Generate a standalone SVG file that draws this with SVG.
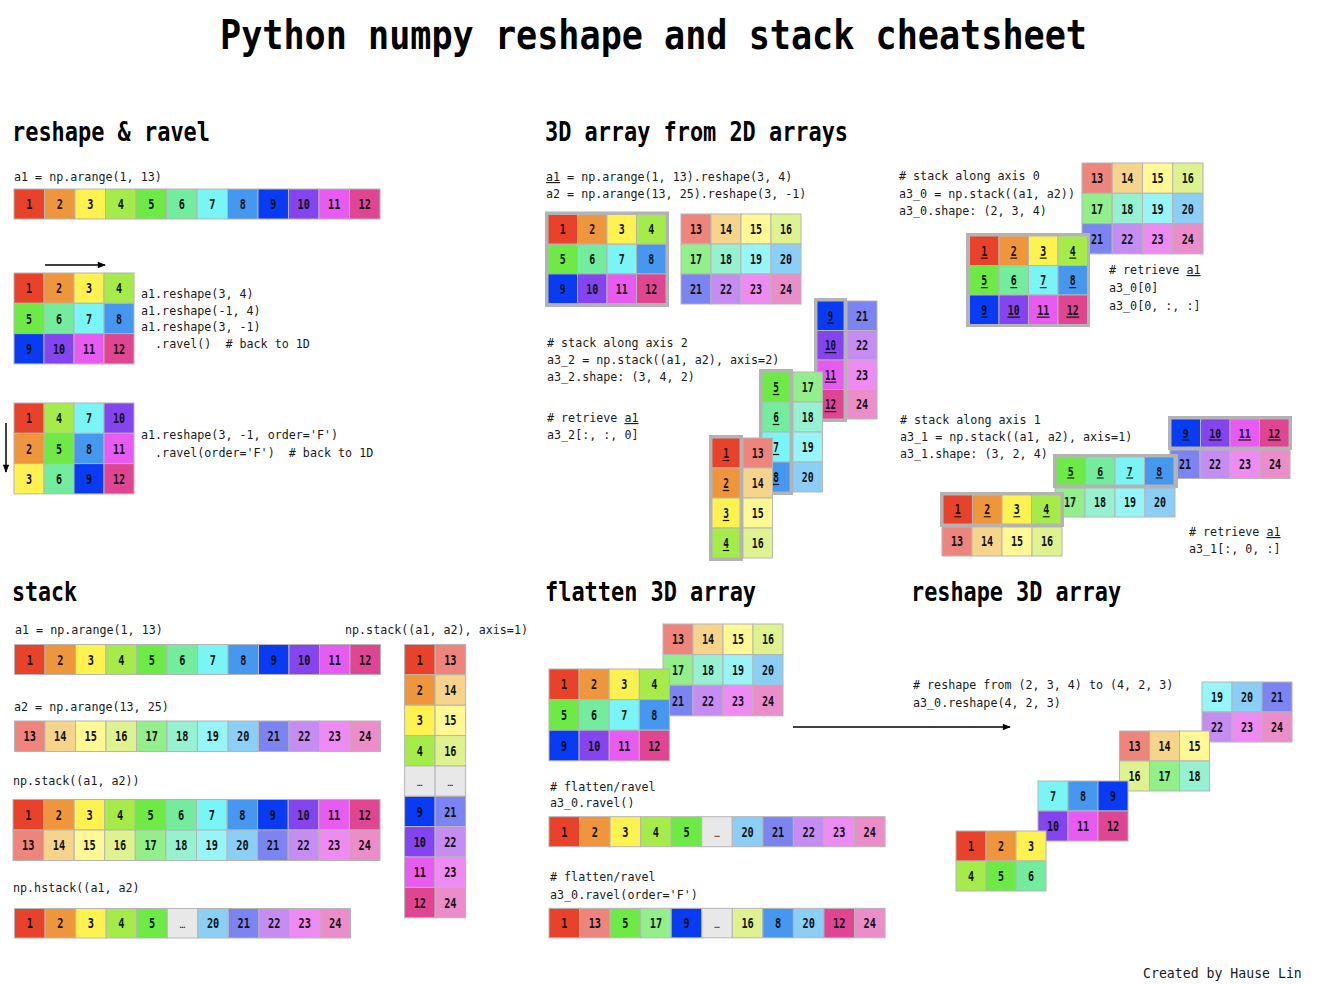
<svg xmlns="http://www.w3.org/2000/svg" xmlns:xlink="http://www.w3.org/1999/xlink" width="1322" height="984" viewBox="0 0 1322 984">
<style>
.title{font-family:"DejaVu Sans Mono","Liberation Mono",monospace;font-weight:bold;font-size:41px;fill:#000;}
.h{font-family:"DejaVu Sans Mono","Liberation Mono",monospace;font-weight:bold;font-size:26px;fill:#000;}
.code{font-family:"DejaVu Sans Mono","Liberation Mono",monospace;font-size:11.7px;fill:#1a1a1a;}
.cred{font-family:"DejaVu Sans Mono","Liberation Mono",monospace;font-size:13.2px;fill:#1a1a1a;}
.u{text-decoration:underline;}
.c{stroke:#b5b5b5;stroke-width:1;}
.v{font-family:"DejaVu Sans Mono","Liberation Mono",monospace;font-weight:bold;font-size:14px;fill:#111;text-anchor:middle;}
.e{font-family:"DejaVu Sans Mono","Liberation Mono",monospace;font-size:9px;fill:#222;text-anchor:middle;}
.ul{stroke:#111;stroke-width:1.2;fill:none;}
.hl{fill:#b3b3b3;}
.arr{stroke:#000;stroke-width:1.5;fill:none;marker-end:url(#ah);}
symbol{overflow:visible;}
</style>
<defs>
<marker id="ah" viewBox="0 0 10 10" refX="9" refY="5" markerWidth="9" markerHeight="8" markerUnits="userSpaceOnUse" orient="auto"><path d="M0,1 L10,5 L0,9 z" fill="#000"/></marker>
<symbol id="n1" viewBox="0 0 30 30" preserveAspectRatio="none"><rect class="c" width="30" height="30" fill="#E8432A"/><text class="v" transform="translate(15 20) scale(0.72 1)">1</text></symbol>
<symbol id="n2" viewBox="0 0 30 30" preserveAspectRatio="none"><rect class="c" width="30" height="30" fill="#EF953B"/><text class="v" transform="translate(15 20) scale(0.72 1)">2</text></symbol>
<symbol id="n3" viewBox="0 0 30 30" preserveAspectRatio="none"><rect class="c" width="30" height="30" fill="#FDF24F"/><text class="v" transform="translate(15 20) scale(0.72 1)">3</text></symbol>
<symbol id="n4" viewBox="0 0 30 30" preserveAspectRatio="none"><rect class="c" width="30" height="30" fill="#A5EB4A"/><text class="v" transform="translate(15 20) scale(0.72 1)">4</text></symbol>
<symbol id="n5" viewBox="0 0 30 30" preserveAspectRatio="none"><rect class="c" width="30" height="30" fill="#6DEA45"/><text class="v" transform="translate(15 20) scale(0.72 1)">5</text></symbol>
<symbol id="n6" viewBox="0 0 30 30" preserveAspectRatio="none"><rect class="c" width="30" height="30" fill="#73EC9E"/><text class="v" transform="translate(15 20) scale(0.72 1)">6</text></symbol>
<symbol id="n7" viewBox="0 0 30 30" preserveAspectRatio="none"><rect class="c" width="30" height="30" fill="#79F5F6"/><text class="v" transform="translate(15 20) scale(0.72 1)">7</text></symbol>
<symbol id="n8" viewBox="0 0 30 30" preserveAspectRatio="none"><rect class="c" width="30" height="30" fill="#4597F0"/><text class="v" transform="translate(15 20) scale(0.72 1)">8</text></symbol>
<symbol id="n9" viewBox="0 0 30 30" preserveAspectRatio="none"><rect class="c" width="30" height="30" fill="#0A3BF4"/><text class="v" transform="translate(15 20) scale(0.72 1)">9</text></symbol>
<symbol id="n10" viewBox="0 0 30 30" preserveAspectRatio="none"><rect class="c" width="30" height="30" fill="#8444EF"/><text class="v" transform="translate(15 20) scale(0.72 1)">10</text></symbol>
<symbol id="n11" viewBox="0 0 30 30" preserveAspectRatio="none"><rect class="c" width="30" height="30" fill="#E85BF0"/><text class="v" transform="translate(15 20) scale(0.72 1)">11</text></symbol>
<symbol id="n12" viewBox="0 0 30 30" preserveAspectRatio="none"><rect class="c" width="30" height="30" fill="#E04592"/><text class="v" transform="translate(15 20) scale(0.72 1)">12</text></symbol>
<symbol id="n13" viewBox="0 0 30 30" preserveAspectRatio="none"><rect class="c" width="30" height="30" fill="#EE857C"/><text class="v" transform="translate(15 20) scale(0.72 1)">13</text></symbol>
<symbol id="n14" viewBox="0 0 30 30" preserveAspectRatio="none"><rect class="c" width="30" height="30" fill="#F7D48C"/><text class="v" transform="translate(15 20) scale(0.72 1)">14</text></symbol>
<symbol id="n15" viewBox="0 0 30 30" preserveAspectRatio="none"><rect class="c" width="30" height="30" fill="#FFF894"/><text class="v" transform="translate(15 20) scale(0.72 1)">15</text></symbol>
<symbol id="n16" viewBox="0 0 30 30" preserveAspectRatio="none"><rect class="c" width="30" height="30" fill="#DEF38F"/><text class="v" transform="translate(15 20) scale(0.72 1)">16</text></symbol>
<symbol id="n17" viewBox="0 0 30 30" preserveAspectRatio="none"><rect class="c" width="30" height="30" fill="#92EF8A"/><text class="v" transform="translate(15 20) scale(0.72 1)">17</text></symbol>
<symbol id="n18" viewBox="0 0 30 30" preserveAspectRatio="none"><rect class="c" width="30" height="30" fill="#96F1D1"/><text class="v" transform="translate(15 20) scale(0.72 1)">18</text></symbol>
<symbol id="n19" viewBox="0 0 30 30" preserveAspectRatio="none"><rect class="c" width="30" height="30" fill="#98F5F7"/><text class="v" transform="translate(15 20) scale(0.72 1)">19</text></symbol>
<symbol id="n20" viewBox="0 0 30 30" preserveAspectRatio="none"><rect class="c" width="30" height="30" fill="#8BCEF6"/><text class="v" transform="translate(15 20) scale(0.72 1)">20</text></symbol>
<symbol id="n21" viewBox="0 0 30 30" preserveAspectRatio="none"><rect class="c" width="30" height="30" fill="#7C84F2"/><text class="v" transform="translate(15 20) scale(0.72 1)">21</text></symbol>
<symbol id="n22" viewBox="0 0 30 30" preserveAspectRatio="none"><rect class="c" width="30" height="30" fill="#C58CF1"/><text class="v" transform="translate(15 20) scale(0.72 1)">22</text></symbol>
<symbol id="n23" viewBox="0 0 30 30" preserveAspectRatio="none"><rect class="c" width="30" height="30" fill="#EE8BF2"/><text class="v" transform="translate(15 20) scale(0.72 1)">23</text></symbol>
<symbol id="n24" viewBox="0 0 30 30" preserveAspectRatio="none"><rect class="c" width="30" height="30" fill="#EB8DC9"/><text class="v" transform="translate(15 20) scale(0.72 1)">24</text></symbol>
<symbol id="ne" viewBox="0 0 30 30" preserveAspectRatio="none"><rect class="c" width="30" height="30" fill="#E8E8E8"/><text class="e" x="15" y="20">…</text></symbol>
<symbol id="u1" viewBox="0 0 30 30" preserveAspectRatio="none"><use href="#n1" width="30" height="30"/><path class="ul" d="M11.5 22.5h7"/></symbol>
<symbol id="u2" viewBox="0 0 30 30" preserveAspectRatio="none"><use href="#n2" width="30" height="30"/><path class="ul" d="M11.5 22.5h7"/></symbol>
<symbol id="u3" viewBox="0 0 30 30" preserveAspectRatio="none"><use href="#n3" width="30" height="30"/><path class="ul" d="M11.5 22.5h7"/></symbol>
<symbol id="u4" viewBox="0 0 30 30" preserveAspectRatio="none"><use href="#n4" width="30" height="30"/><path class="ul" d="M11.5 22.5h7"/></symbol>
<symbol id="u5" viewBox="0 0 30 30" preserveAspectRatio="none"><use href="#n5" width="30" height="30"/><path class="ul" d="M11.5 22.5h7"/></symbol>
<symbol id="u6" viewBox="0 0 30 30" preserveAspectRatio="none"><use href="#n6" width="30" height="30"/><path class="ul" d="M11.5 22.5h7"/></symbol>
<symbol id="u7" viewBox="0 0 30 30" preserveAspectRatio="none"><use href="#n7" width="30" height="30"/><path class="ul" d="M11.5 22.5h7"/></symbol>
<symbol id="u8" viewBox="0 0 30 30" preserveAspectRatio="none"><use href="#n8" width="30" height="30"/><path class="ul" d="M11.5 22.5h7"/></symbol>
<symbol id="u9" viewBox="0 0 30 30" preserveAspectRatio="none"><use href="#n9" width="30" height="30"/><path class="ul" d="M11.5 22.5h7"/></symbol>
<symbol id="u10" viewBox="0 0 30 30" preserveAspectRatio="none"><use href="#n10" width="30" height="30"/><path class="ul" d="M8.5 22.5h13"/></symbol>
<symbol id="u11" viewBox="0 0 30 30" preserveAspectRatio="none"><use href="#n11" width="30" height="30"/><path class="ul" d="M8.5 22.5h13"/></symbol>
<symbol id="u12" viewBox="0 0 30 30" preserveAspectRatio="none"><use href="#n12" width="30" height="30"/><path class="ul" d="M8.5 22.5h13"/></symbol>
</defs>
<rect width="1322" height="984" fill="#fff"/>
<text class="title" x="220" y="49" textLength="867" lengthAdjust="spacingAndGlyphs">Python numpy reshape and stack cheatsheet</text>

<!-- reshape & ravel -->
<g id="reshape-ravel">
<text class="h" x="12" y="141" textLength="198" lengthAdjust="spacingAndGlyphs">reshape &amp; ravel</text>
<text class="code" x="14" y="181">a1 = np.arange(1, 13)</text>
<g id="ravel-a1">
<use href="#n1" x="14" y="189" width="30.5" height="30"/><use href="#n2" x="44.5" y="189" width="30.5" height="30"/><use href="#n3" x="75" y="189" width="30.5" height="30"/><use href="#n4" x="105.5" y="189" width="30.5" height="30"/><use href="#n5" x="136" y="189" width="30.5" height="30"/><use href="#n6" x="166.5" y="189" width="30.5" height="30"/><use href="#n7" x="197" y="189" width="30.5" height="30"/><use href="#n8" x="227.5" y="189" width="30.5" height="30"/><use href="#n9" x="258" y="189" width="30.5" height="30"/><use href="#n10" x="288.5" y="189" width="30.5" height="30"/><use href="#n11" x="319" y="189" width="30.5" height="30"/><use href="#n12" x="349.5" y="189" width="30.5" height="30"/>
</g>
<g id="ravel-grid-c">
<use href="#n1" x="14" y="273" width="30" height="30.3"/><use href="#n2" x="44" y="273" width="30" height="30.3"/><use href="#n3" x="74" y="273" width="30" height="30.3"/><use href="#n4" x="104" y="273" width="30" height="30.3"/>
<use href="#n5" x="14" y="303.3" width="30" height="30.3"/><use href="#n6" x="44" y="303.3" width="30" height="30.3"/><use href="#n7" x="74" y="303.3" width="30" height="30.3"/><use href="#n8" x="104" y="303.3" width="30" height="30.3"/>
<use href="#n9" x="14" y="333.6" width="30" height="30.3"/><use href="#n10" x="44" y="333.6" width="30" height="30.3"/><use href="#n11" x="74" y="333.6" width="30" height="30.3"/><use href="#n12" x="104" y="333.6" width="30" height="30.3"/>
</g>
<text class="code" x="141" y="298">a1.reshape(3, 4)</text>
<text class="code" x="141" y="315">a1.reshape(-1, 4)</text>
<text class="code" x="141" y="331">a1.reshape(3, -1)</text>
<text class="code" x="141" y="348" xml:space="preserve">  .ravel()  # back to 1D</text>
<g id="ravel-grid-f">
<use href="#n1" x="14" y="403" width="30" height="30.3"/><use href="#n4" x="44" y="403" width="30" height="30.3"/><use href="#n7" x="74" y="403" width="30" height="30.3"/><use href="#n10" x="104" y="403" width="30" height="30.3"/>
<use href="#n2" x="14" y="433.3" width="30" height="30.3"/><use href="#n5" x="44" y="433.3" width="30" height="30.3"/><use href="#n8" x="74" y="433.3" width="30" height="30.3"/><use href="#n11" x="104" y="433.3" width="30" height="30.3"/>
<use href="#n3" x="14" y="463.6" width="30" height="30.3"/><use href="#n6" x="44" y="463.6" width="30" height="30.3"/><use href="#n9" x="74" y="463.6" width="30" height="30.3"/><use href="#n12" x="104" y="463.6" width="30" height="30.3"/>
</g>
<text class="code" x="141" y="439">a1.reshape(3, -1, order='F')</text>
<text class="code" x="141" y="457" xml:space="preserve">  .ravel(order='F')  # back to 1D</text>
</g>

<!-- 3D array from 2D arrays -->
<g id="stack3d">
<text class="h" x="545" y="141" textLength="303" lengthAdjust="spacingAndGlyphs">3D array from 2D arrays</text>
<text class="code" x="546" y="181"><tspan class="u">a1</tspan> = np.arange(1, 13).reshape(3, 4)</text>
<text class="code" x="546" y="198">a2 = np.arange(13, 25).reshape(3, -1)</text>
<g id="s3-a1">
<rect class="hl" x="545" y="211.5" width="124" height="95.5"/>
<use href="#n1" x="548" y="214.5" width="29.5" height="29.7"/><use href="#n2" x="577.5" y="214.5" width="29.5" height="29.7"/><use href="#n3" x="607" y="214.5" width="29.5" height="29.7"/><use href="#n4" x="636.5" y="214.5" width="29.5" height="29.7"/>
<use href="#n5" x="548" y="244.2" width="29.5" height="29.7"/><use href="#n6" x="577.5" y="244.2" width="29.5" height="29.7"/><use href="#n7" x="607" y="244.2" width="29.5" height="29.7"/><use href="#n8" x="636.5" y="244.2" width="29.5" height="29.7"/>
<use href="#n9" x="548" y="273.9" width="29.5" height="29.7"/><use href="#n10" x="577.5" y="273.9" width="29.5" height="29.7"/><use href="#n11" x="607" y="273.9" width="29.5" height="29.7"/><use href="#n12" x="636.5" y="273.9" width="29.5" height="29.7"/>
</g>
<g id="s3-a2">
<use href="#n13" x="681" y="214" width="30" height="30"/><use href="#n14" x="711" y="214" width="30" height="30"/><use href="#n15" x="741" y="214" width="30" height="30"/><use href="#n16" x="771" y="214" width="30" height="30"/>
<use href="#n17" x="681" y="244" width="30" height="30"/><use href="#n18" x="711" y="244" width="30" height="30"/><use href="#n19" x="741" y="244" width="30" height="30"/><use href="#n20" x="771" y="244" width="30" height="30"/>
<use href="#n21" x="681" y="274" width="30" height="30"/><use href="#n22" x="711" y="274" width="30" height="30"/><use href="#n23" x="741" y="274" width="30" height="30"/><use href="#n24" x="771" y="274" width="30" height="30"/>
</g>

<!-- axis 0 -->
<g id="axis0">
<text class="code" x="899" y="180"># stack along axis 0</text>
<text class="code" x="899" y="198">a3_0 = np.stack((a1, a2))</text>
<text class="code" x="899" y="215">a3_0.shape: (2, 3, 4)</text>
<use href="#n13" x="1082" y="163" width="30.25" height="30.3"/><use href="#n14" x="1112.25" y="163" width="30.25" height="30.3"/><use href="#n15" x="1142.5" y="163" width="30.25" height="30.3"/><use href="#n16" x="1172.75" y="163" width="30.25" height="30.3"/>
<use href="#n17" x="1082" y="193.3" width="30.25" height="30.3"/><use href="#n18" x="1112.25" y="193.3" width="30.25" height="30.3"/><use href="#n19" x="1142.5" y="193.3" width="30.25" height="30.3"/><use href="#n20" x="1172.75" y="193.3" width="30.25" height="30.3"/>
<use href="#n21" x="1082" y="223.6" width="30.25" height="30.3"/><use href="#n22" x="1112.25" y="223.6" width="30.25" height="30.3"/><use href="#n23" x="1142.5" y="223.6" width="30.25" height="30.3"/><use href="#n24" x="1172.75" y="223.6" width="30.25" height="30.3"/>
<rect class="hl" x="966" y="233" width="124" height="94"/>
<use href="#u1" x="969.5" y="236" width="29.5" height="29.5"/><use href="#u2" x="999" y="236" width="29.5" height="29.5"/><use href="#u3" x="1028.5" y="236" width="29.5" height="29.5"/><use href="#u4" x="1058" y="236" width="29.5" height="29.5"/>
<use href="#u5" x="969.5" y="265.5" width="29.5" height="29.5"/><use href="#u6" x="999" y="265.5" width="29.5" height="29.5"/><use href="#u7" x="1028.5" y="265.5" width="29.5" height="29.5"/><use href="#u8" x="1058" y="265.5" width="29.5" height="29.5"/>
<use href="#u9" x="969.5" y="295" width="29.5" height="29.5"/><use href="#u10" x="999" y="295" width="29.5" height="29.5"/><use href="#u11" x="1028.5" y="295" width="29.5" height="29.5"/><use href="#u12" x="1058" y="295" width="29.5" height="29.5"/>
<text class="code" x="1109" y="274"># retrieve <tspan class="u">a1</tspan></text>
<text class="code" x="1109" y="292">a3_0[0]</text>
<text class="code" x="1109" y="310">a3_0[0, :, :]</text>
</g>

<!-- axis 2 -->
<g id="axis2">
<text class="code" x="547" y="347"># stack along axis 2</text>
<text class="code" x="547" y="364">a3_2 = np.stack((a1, a2), axis=2)</text>
<text class="code" x="547" y="381">a3_2.shape: (3, 4, 2)</text>
<text class="code" x="547" y="422"># retrieve <tspan class="u">a1</tspan></text>
<text class="code" x="547" y="439">a3_2[:, :, 0]</text>
<g id="axis2-back">
<rect class="hl" x="814" y="298" width="33" height="124"/>
<use href="#u9" x="817" y="301" width="27" height="29.5"/><use href="#u10" x="817" y="330.5" width="27" height="29.5"/><use href="#u11" x="817" y="360" width="27" height="29.5"/><use href="#u12" x="817" y="389.5" width="27" height="29.5"/>
<use href="#n21" x="847" y="301" width="30" height="29.5"/><use href="#n22" x="847" y="330.5" width="30" height="29.5"/><use href="#n23" x="847" y="360" width="30" height="29.5"/><use href="#n24" x="847" y="389.5" width="30" height="29.5"/>
</g>
<g id="axis2-mid">
<rect class="hl" x="759" y="369" width="34" height="126"/>
<use href="#u5" x="762" y="372" width="28" height="30"/><use href="#u6" x="762" y="402" width="28" height="30"/><use href="#u7" x="762" y="432" width="28" height="30"/><use href="#u8" x="762" y="462" width="28" height="30"/>
<use href="#n17" x="793" y="372" width="29.5" height="30"/><use href="#n18" x="793" y="402" width="29.5" height="30"/><use href="#n19" x="793" y="432" width="29.5" height="30"/><use href="#n20" x="793" y="462" width="29.5" height="30"/>
</g>
<g id="axis2-front">
<rect class="hl" x="709" y="435" width="34" height="126"/>
<use href="#u1" x="712" y="438" width="28" height="30"/><use href="#u2" x="712" y="468" width="28" height="30"/><use href="#u3" x="712" y="498" width="28" height="30"/><use href="#u4" x="712" y="528" width="28" height="30"/>
<use href="#n13" x="743" y="438" width="29.5" height="30"/><use href="#n14" x="743" y="468" width="29.5" height="30"/><use href="#n15" x="743" y="498" width="29.5" height="30"/><use href="#n16" x="743" y="528" width="29.5" height="30"/>
</g>
</g>

<!-- axis 1 -->
<g id="axis1">
<text class="code" x="900" y="424"># stack along axis 1</text>
<text class="code" x="900" y="441">a3_1 = np.stack((a1, a2), axis=1)</text>
<text class="code" x="900" y="458">a3_1.shape: (3, 2, 4)</text>
<g id="axis1-back">
<rect class="hl" x="1168" y="416" width="124" height="34"/>
<use href="#u9" x="1171" y="419" width="29.5" height="28"/><use href="#u10" x="1200.5" y="419" width="29.5" height="28"/><use href="#u11" x="1230" y="419" width="29.5" height="28"/><use href="#u12" x="1259.5" y="419" width="29.5" height="28"/>
<use href="#n21" x="1170" y="450" width="30" height="28.5"/><use href="#n22" x="1200" y="450" width="30" height="28.5"/><use href="#n23" x="1230" y="450" width="30" height="28.5"/><use href="#n24" x="1260" y="450" width="30" height="28.5"/>
</g>
<g id="axis1-mid">
<rect class="hl" x="1053" y="454" width="125" height="34"/>
<use href="#u5" x="1056" y="457" width="29.5" height="28"/><use href="#u6" x="1085.5" y="457" width="29.5" height="28"/><use href="#u7" x="1115" y="457" width="29.5" height="28"/><use href="#u8" x="1144.5" y="457" width="29.5" height="28"/>
<use href="#n17" x="1055" y="488" width="30" height="29"/><use href="#n18" x="1085" y="488" width="30" height="29"/><use href="#n19" x="1115" y="488" width="30" height="29"/><use href="#n20" x="1145" y="488" width="30" height="29"/>
</g>
<g id="axis1-front">
<rect class="hl" x="940" y="492" width="124" height="35"/>
<use href="#u1" x="943" y="495" width="29.5" height="29"/><use href="#u2" x="972.5" y="495" width="29.5" height="29"/><use href="#u3" x="1002" y="495" width="29.5" height="29"/><use href="#u4" x="1031.5" y="495" width="29.5" height="29"/>
<use href="#n13" x="942" y="527" width="30" height="29"/><use href="#n14" x="972" y="527" width="30" height="29"/><use href="#n15" x="1002" y="527" width="30" height="29"/><use href="#n16" x="1032" y="527" width="30" height="29"/>
</g>
<text class="code" x="1189" y="536"># retrieve <tspan class="u">a1</tspan></text>
<text class="code" x="1189" y="553">a3_1[:, 0, :]</text>
</g>
</g>

<!-- stack -->
<g id="stack">
<text class="h" x="12" y="601" textLength="65" lengthAdjust="spacingAndGlyphs">stack</text>
<text class="code" x="15" y="634">a1 = np.arange(1, 13)</text>
<text class="code" x="345" y="634">np.stack((a1, a2), axis=1)</text>
<g id="stack-a1">
<use href="#n1" x="14.5" y="644.5" width="30.5" height="30"/><use href="#n2" x="45" y="644.5" width="30.5" height="30"/><use href="#n3" x="75.5" y="644.5" width="30.5" height="30"/><use href="#n4" x="106" y="644.5" width="30.5" height="30"/><use href="#n5" x="136.5" y="644.5" width="30.5" height="30"/><use href="#n6" x="167" y="644.5" width="30.5" height="30"/><use href="#n7" x="197.5" y="644.5" width="30.5" height="30"/><use href="#n8" x="228" y="644.5" width="30.5" height="30"/><use href="#n9" x="258.5" y="644.5" width="30.5" height="30"/><use href="#n10" x="289" y="644.5" width="30.5" height="30"/><use href="#n11" x="319.5" y="644.5" width="30.5" height="30"/><use href="#n12" x="350" y="644.5" width="30.5" height="30"/>
</g>
<text class="code" x="14" y="711">a2 = np.arange(13, 25)</text>
<g id="stack-a2">
<use href="#n13" x="14.5" y="721" width="30.5" height="30.5"/><use href="#n14" x="45" y="721" width="30.5" height="30.5"/><use href="#n15" x="75.5" y="721" width="30.5" height="30.5"/><use href="#n16" x="106" y="721" width="30.5" height="30.5"/><use href="#n17" x="136.5" y="721" width="30.5" height="30.5"/><use href="#n18" x="167" y="721" width="30.5" height="30.5"/><use href="#n19" x="197.5" y="721" width="30.5" height="30.5"/><use href="#n20" x="228" y="721" width="30.5" height="30.5"/><use href="#n21" x="258.5" y="721" width="30.5" height="30.5"/><use href="#n22" x="289" y="721" width="30.5" height="30.5"/><use href="#n23" x="319.5" y="721" width="30.5" height="30.5"/><use href="#n24" x="350" y="721" width="30.5" height="30.5"/>
</g>
<text class="code" x="13" y="785">np.stack((a1, a2))</text>
<g id="stack-2d">
<use href="#n1" x="13" y="799.5" width="30.6" height="30.5"/><use href="#n2" x="43.6" y="799.5" width="30.6" height="30.5"/><use href="#n3" x="74.2" y="799.5" width="30.6" height="30.5"/><use href="#n4" x="104.7" y="799.5" width="30.6" height="30.5"/><use href="#n5" x="135.3" y="799.5" width="30.6" height="30.5"/><use href="#n6" x="165.9" y="799.5" width="30.6" height="30.5"/><use href="#n7" x="196.5" y="799.5" width="30.6" height="30.5"/><use href="#n8" x="227.1" y="799.5" width="30.6" height="30.5"/><use href="#n9" x="257.6" y="799.5" width="30.6" height="30.5"/><use href="#n10" x="288.2" y="799.5" width="30.6" height="30.5"/><use href="#n11" x="318.8" y="799.5" width="30.6" height="30.5"/><use href="#n12" x="349.4" y="799.5" width="30.6" height="30.5"/>
<use href="#n13" x="13" y="830" width="30.6" height="30.5"/><use href="#n14" x="43.6" y="830" width="30.6" height="30.5"/><use href="#n15" x="74.2" y="830" width="30.6" height="30.5"/><use href="#n16" x="104.7" y="830" width="30.6" height="30.5"/><use href="#n17" x="135.3" y="830" width="30.6" height="30.5"/><use href="#n18" x="165.9" y="830" width="30.6" height="30.5"/><use href="#n19" x="196.5" y="830" width="30.6" height="30.5"/><use href="#n20" x="227.1" y="830" width="30.6" height="30.5"/><use href="#n21" x="257.6" y="830" width="30.6" height="30.5"/><use href="#n22" x="288.2" y="830" width="30.6" height="30.5"/><use href="#n23" x="318.8" y="830" width="30.6" height="30.5"/><use href="#n24" x="349.4" y="830" width="30.6" height="30.5"/>
</g>
<text class="code" x="13" y="892">np.hstack((a1, a2)</text>
<g id="stack-h">
<use href="#n1" x="14.5" y="908.5" width="30.55" height="29.5"/><use href="#n2" x="45.05" y="908.5" width="30.55" height="29.5"/><use href="#n3" x="75.6" y="908.5" width="30.55" height="29.5"/><use href="#n4" x="106.15" y="908.5" width="30.55" height="29.5"/><use href="#n5" x="136.7" y="908.5" width="30.55" height="29.5"/><use href="#ne" x="167.25" y="908.5" width="30.55" height="29.5"/><use href="#n20" x="197.8" y="908.5" width="30.55" height="29.5"/><use href="#n21" x="228.35" y="908.5" width="30.55" height="29.5"/><use href="#n22" x="258.9" y="908.5" width="30.55" height="29.5"/><use href="#n23" x="289.45" y="908.5" width="30.55" height="29.5"/><use href="#n24" x="320" y="908.5" width="30.55" height="29.5"/>
</g>
<g id="stack-axis1">
<use href="#n1" x="404.6" y="644.5" width="30.5" height="30.36"/><use href="#n13" x="435.1" y="644.5" width="30.5" height="30.36"/>
<use href="#n2" x="404.6" y="674.86" width="30.5" height="30.36"/><use href="#n14" x="435.1" y="674.86" width="30.5" height="30.36"/>
<use href="#n3" x="404.6" y="705.22" width="30.5" height="30.36"/><use href="#n15" x="435.1" y="705.22" width="30.5" height="30.36"/>
<use href="#n4" x="404.6" y="735.58" width="30.5" height="30.36"/><use href="#n16" x="435.1" y="735.58" width="30.5" height="30.36"/>
<use href="#ne" x="404.6" y="765.94" width="30.5" height="30.36"/><use href="#ne" x="435.1" y="765.94" width="30.5" height="30.36"/>
<use href="#n9" x="404.6" y="796.3" width="30.5" height="30.36"/><use href="#n21" x="435.1" y="796.3" width="30.5" height="30.36"/>
<use href="#n10" x="404.6" y="826.66" width="30.5" height="30.36"/><use href="#n22" x="435.1" y="826.66" width="30.5" height="30.36"/>
<use href="#n11" x="404.6" y="857.02" width="30.5" height="30.36"/><use href="#n23" x="435.1" y="857.02" width="30.5" height="30.36"/>
<use href="#n12" x="404.6" y="887.38" width="30.5" height="30.36"/><use href="#n24" x="435.1" y="887.38" width="30.5" height="30.36"/>
</g>
</g>

<!-- flatten 3D array -->
<g id="flatten">
<text class="h" x="545" y="601" textLength="211" lengthAdjust="spacingAndGlyphs">flatten 3D array</text>
<g id="flat-a2">
<use href="#n13" x="663" y="624" width="30" height="30.6"/><use href="#n14" x="693" y="624" width="30" height="30.6"/><use href="#n15" x="723" y="624" width="30" height="30.6"/><use href="#n16" x="753" y="624" width="30" height="30.6"/>
<use href="#n17" x="663" y="654.6" width="30" height="30.6"/><use href="#n18" x="693" y="654.6" width="30" height="30.6"/><use href="#n19" x="723" y="654.6" width="30" height="30.6"/><use href="#n20" x="753" y="654.6" width="30" height="30.6"/>
<use href="#n21" x="663" y="685.2" width="30" height="30.6"/><use href="#n22" x="693" y="685.2" width="30" height="30.6"/><use href="#n23" x="723" y="685.2" width="30" height="30.6"/><use href="#n24" x="753" y="685.2" width="30" height="30.6"/>
</g>
<g id="flat-a1">
<use href="#n1" x="549" y="669" width="30.1" height="30.6"/><use href="#n2" x="579.1" y="669" width="30.1" height="30.6"/><use href="#n3" x="609.2" y="669" width="30.1" height="30.6"/><use href="#n4" x="639.3" y="669" width="30.1" height="30.6"/>
<use href="#n5" x="549" y="699.6" width="30.1" height="30.6"/><use href="#n6" x="579.1" y="699.6" width="30.1" height="30.6"/><use href="#n7" x="609.2" y="699.6" width="30.1" height="30.6"/><use href="#n8" x="639.3" y="699.6" width="30.1" height="30.6"/>
<use href="#n9" x="549" y="730.2" width="30.1" height="30.6"/><use href="#n10" x="579.1" y="730.2" width="30.1" height="30.6"/><use href="#n11" x="609.2" y="730.2" width="30.1" height="30.6"/><use href="#n12" x="639.3" y="730.2" width="30.1" height="30.6"/>
</g>
<text class="code" x="550" y="791"># flatten/ravel</text>
<text class="code" x="550" y="807">a3_0.ravel()</text>
<g id="flat-c">
<use href="#n1" x="549" y="816.7" width="30.55" height="30"/><use href="#n2" x="579.55" y="816.7" width="30.55" height="30"/><use href="#n3" x="610.1" y="816.7" width="30.55" height="30"/><use href="#n4" x="640.65" y="816.7" width="30.55" height="30"/><use href="#n5" x="671.2" y="816.7" width="30.55" height="30"/><use href="#ne" x="701.75" y="816.7" width="30.55" height="30"/><use href="#n20" x="732.3" y="816.7" width="30.55" height="30"/><use href="#n21" x="762.85" y="816.7" width="30.55" height="30"/><use href="#n22" x="793.4" y="816.7" width="30.55" height="30"/><use href="#n23" x="823.95" y="816.7" width="30.55" height="30"/><use href="#n24" x="854.5" y="816.7" width="30.55" height="30"/>
</g>
<text class="code" x="550" y="881"># flatten/ravel</text>
<text class="code" x="550" y="899">a3_0.ravel(order='F')</text>
<g id="flat-f">
<use href="#n1" x="549" y="908.3" width="30.55" height="29.5"/><use href="#n13" x="579.55" y="908.3" width="30.55" height="29.5"/><use href="#n5" x="610.1" y="908.3" width="30.55" height="29.5"/><use href="#n17" x="640.65" y="908.3" width="30.55" height="29.5"/><use href="#n9" x="671.2" y="908.3" width="30.55" height="29.5"/><use href="#ne" x="701.75" y="908.3" width="30.55" height="29.5"/><use href="#n16" x="732.3" y="908.3" width="30.55" height="29.5"/><use href="#n8" x="762.85" y="908.3" width="30.55" height="29.5"/><use href="#n20" x="793.4" y="908.3" width="30.55" height="29.5"/><use href="#n12" x="823.95" y="908.3" width="30.55" height="29.5"/><use href="#n24" x="854.5" y="908.3" width="30.55" height="29.5"/>
</g>
</g>

<!-- reshape 3D array -->
<g id="reshape3d">
<text class="h" x="911" y="601" textLength="210" lengthAdjust="spacingAndGlyphs">reshape 3D array</text>
<text class="code" x="913" y="689"># reshape from (2, 3, 4) to (4, 2, 3)</text>
<text class="code" x="913" y="707">a3_0.reshape(4, 2, 3)</text>
<g id="r3-b4">
<use href="#n19" x="1202" y="682" width="30" height="30"/><use href="#n20" x="1232" y="682" width="30" height="30"/><use href="#n21" x="1262" y="682" width="30" height="30"/>
<use href="#n22" x="1202" y="712" width="30" height="30"/><use href="#n23" x="1232" y="712" width="30" height="30"/><use href="#n24" x="1262" y="712" width="30" height="30"/>
</g>
<g id="r3-b3">
<use href="#n13" x="1119.5" y="731" width="30" height="30"/><use href="#n14" x="1149.5" y="731" width="30" height="30"/><use href="#n15" x="1179.5" y="731" width="30" height="30"/>
<use href="#n16" x="1119.5" y="761" width="30" height="30"/><use href="#n17" x="1149.5" y="761" width="30" height="30"/><use href="#n18" x="1179.5" y="761" width="30" height="30"/>
</g>
<g id="r3-b2">
<use href="#n7" x="1038" y="781" width="30" height="30"/><use href="#n8" x="1068" y="781" width="30" height="30"/><use href="#n9" x="1098" y="781" width="30" height="30"/>
<use href="#n10" x="1038" y="811" width="30" height="30"/><use href="#n11" x="1068" y="811" width="30" height="30"/><use href="#n12" x="1098" y="811" width="30" height="30"/>
</g>
<g id="r3-b1">
<use href="#n1" x="956" y="831" width="30" height="30"/><use href="#n2" x="986" y="831" width="30" height="30"/><use href="#n3" x="1016" y="831" width="30" height="30"/>
<use href="#n4" x="956" y="861" width="30" height="30"/><use href="#n5" x="986" y="861" width="30" height="30"/><use href="#n6" x="1016" y="861" width="30" height="30"/>
</g>
</g>

<g id="connectors">
<line class="arr" x1="45" y1="265" x2="105" y2="265"/>
<line class="arr" x1="6" y1="423" x2="6" y2="472"/>
<line class="arr" x1="793" y1="727" x2="1010" y2="727"/>
</g>

<text class="cred" x="1143" y="978">Created by Hause Lin</text>
</svg>
